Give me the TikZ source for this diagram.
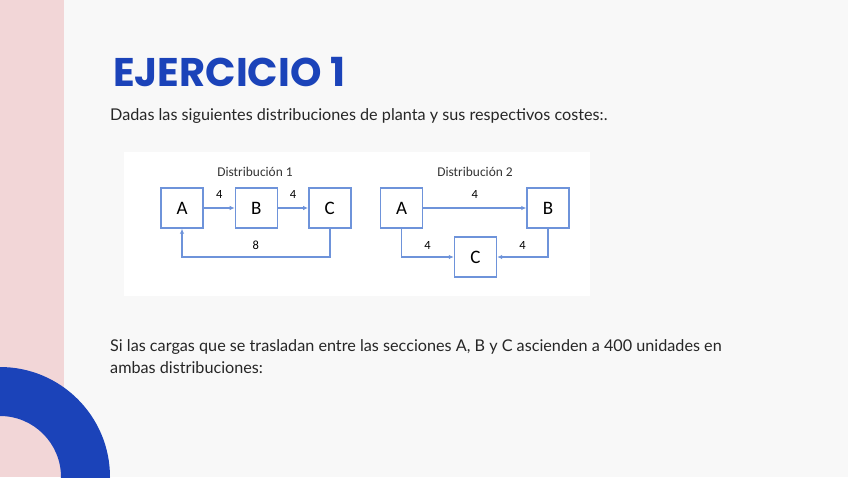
\documentclass[tikz,border=0pt]{standalone}
\usepackage{fontspec}
\setmainfont{Lato}
\newfontfamily\titlefont{Poppins}
\newfontfamily\figfont{Carlito}
\usetikzlibrary{arrows.meta,positioning}
\usepackage{xcolor}
\definecolor{slidebg}{HTML}{F8F8F8}
\definecolor{pinkstrip}{HTML}{F2D6D7}
\definecolor{royal}{HTML}{1B43B9}
\definecolor{boxblue}{HTML}{6E93DA}
\definecolor{figgray}{HTML}{333333}
\definecolor{bodytext}{HTML}{262626}

\begin{document}
\begin{tikzpicture}[x=1pt,y=-1pt, >={Latex[length=5pt,width=4.5pt]},
  sec/.style={draw=boxblue, line width=1.4pt, fill=white, minimum width=42pt,
    minimum height=40pt, inner sep=0pt, font=\figfont\fontsize{19}{19}\selectfont},
  flow/.style={draw=boxblue, line width=1.9pt, ->},
  cost/.style={font=\figfont\fontsize{12.5}{12.5}\selectfont, above=5pt},
  distlabel/.style={font=\figfont\fontsize{13.4}{13.4}\selectfont, text=figgray},
  body/.style={anchor=base west, inner sep=0pt, text=bodytext,
    font=\fontsize{16.2}{16.2}\selectfont}]
  \useasboundingbox (0,0) rectangle (848,477);
  % slide background
  \fill[slidebg] (0,0) rectangle (848,477);
  \fill[pinkstrip] (0,0) rectangle (64,477);
  \begin{scope}
    \clip (0,0) rectangle (848,477);
    \fill[royal, even odd rule] (0,477) circle (110) (0,477) circle (61);
  \end{scope}

  \node[anchor=base west, inner sep=0pt, text=royal,
    font=\titlefont\bfseries\fontsize{40}{40}\selectfont] (title) at (113,86) {EJERCICIO 1};
  \node[body] (intro) at (110,120) {Dadas las siguientes distribuciones de planta y sus respectivos costes:.};

  % pasted figure
  \fill[white] (124,152) rectangle (590,296);

  % Distribucion 1
  \node[distlabel] (d1) at (255,172) {Distribución 1};
  \node[sec] (A) at (182,208) {A};
  \node[sec, right=31pt of A] (B) {B};
  \node[sec, right=30pt of B] (C) {C};
  \coordinate (loop) at (182,257);
  \draw[flow] (A) -- node[cost] {4} (B);
  \draw[flow] (B) -- node[cost] {4} (C);
  \draw[flow] (C.south) |- node[cost, pos=0.75, above=3pt] {8} (loop) -- (A.south);

  % Distribucion 2
  \node[distlabel] (d2) at (475,172) {Distribución 2};
  \node[sec] (A2) at (401.5,208) {A};
  \node[sec] (B2) at (548,208) {B};
  \node[sec] (C2) at (475.5,257) {C};
  \draw[flow] (A2) -- node[cost] {4} (B2);
  \draw[flow] (A2.south) |- node[cost, pos=0.75, above=3pt] {4} (C2.west);
  \draw[flow] (B2.south) |- node[cost, pos=0.75, above=3pt] {4} (C2.east);

  \node[body] (loads) at (110,351) {Si las cargas que se trasladan entre las secciones A, B y C ascienden a 400 unidades en};
  \node[body] (loads2) at (110,373) {ambas distribuciones:};
\end{tikzpicture}
\end{document}
